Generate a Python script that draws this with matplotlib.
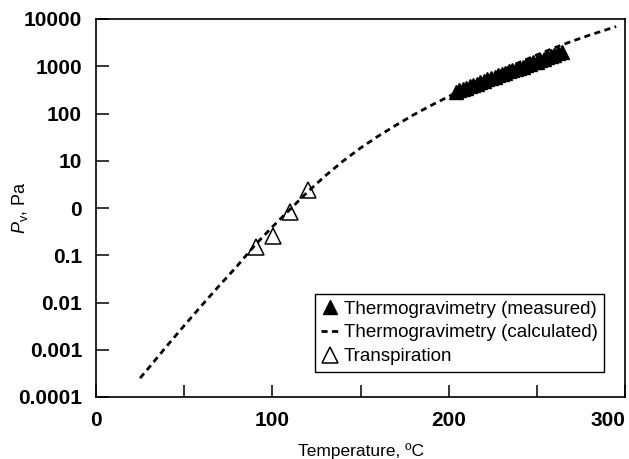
import numpy as np
import matplotlib
matplotlib.use('Agg')
import matplotlib.pyplot as plt

plt.rcParams['font.family'] = ['Liberation Sans', 'DejaVu Sans']
plt.rcParams['mathtext.fontset'] = 'custom'
plt.rcParams['mathtext.rm'] = 'Liberation Sans'
plt.rcParams['mathtext.it'] = 'Liberation Sans:italic'

# calculated curve (thermogravimetry), temperature in C, vapour pressure in Pa
t_calc = [25, 30, 40, 50, 60, 70, 80, 90, 100, 110, 120, 130, 140, 150, 160,
          170, 180, 190, 200, 210, 220, 230, 240, 250, 260, 270, 280, 290, 295]
p_calc = [0.000251, 0.000417, 0.00118, 0.00324, 0.00871, 0.0229, 0.0589, 0.162,
          0.398, 0.933, 2.19, 4.79, 9.77, 18.6, 33.1, 56.2, 93.3, 148, 229,
          355, 537, 813, 1202, 1738, 2455, 3388, 4571, 6026, 6918]

# measured thermogravimetry points
t_meas = [204, 206, 208, 210, 212, 214, 216, 218, 220, 222, 224, 226, 228, 230,
          232, 234, 236, 238, 240, 242, 244, 246, 248, 250, 252, 254, 256, 258,
          260, 262, 264]
p_meas = [288, 309, 331, 355, 380, 407, 427, 457, 490, 525, 562, 589, 646, 692,
          724, 776, 813, 871, 933, 977, 1047, 1122, 1202, 1259, 1349, 1445, 1549,
          1622, 1738, 1862, 1995]

# transpiration points
t_trans = [90.7, 100.2, 110.0, 120.2]
p_trans = [0.15, 0.26, 0.83, 2.4]

yticks = [1e-4, 1e-3, 1e-2, 1e-1, 1, 10, 100, 1000, 10000]
ylabels = ['0.0001', '0.001', '0.01', '0.1', '0', '10', '100', '1000', '10000']
xticks = [0, 100, 200, 300]
xminor = [50, 150, 250]

fig = plt.figure(figsize=(6.29, 4.59), dpi=100)
ax = fig.add_axes([96/629, 1 - 397/459, 529/629, 378/459])

ax.plot(t_meas, p_meas, linestyle='none', marker='^', ms=10, color='black',
        label='Thermogravimetry (measured)')
line, = ax.plot(t_calc, p_calc, color='black', lw=2,
                label='Thermogravimetry (calculated)')
line.set_dashes([2.2, 1.6])
ax.plot(t_trans, p_trans, linestyle='none', marker='^', ms=11, mfc='none',
        mec='black', mew=1.1, label='Transpiration')

ax.set_yscale('log')
ax.set_xlim(0, 300)
ax.set_ylim(1e-4, 1e4)
ax.set_yticks(yticks)
ax.set_yticklabels(ylabels)
ax.yaxis.set_minor_locator(matplotlib.ticker.NullLocator())
ax.set_xticks(xticks)
ax.set_xticks(xminor, minor=True)

for s in ax.spines.values():
    s.set_linewidth(1.2)
ax.tick_params(which='both', direction='in', length=9, width=1.1,
               top=False, right=False)
ax.tick_params(axis='both', which='major', labelsize=15, pad=10)
for lab in ax.get_xticklabels() + ax.get_yticklabels():
    lab.set_fontweight('bold')
ax.get_xticklabels()[-1].set_horizontalalignment('right')

ax.set_xlabel('Temperature, ºC', fontsize=12.5)
ax.xaxis.label.set_va('center')
ax.xaxis.set_label_coords(0.5, (397 - 451) / 378)
ax.set_ylabel('$\\mathit{P}_{\\mathrm{v}}$, Pa', fontsize=13)
ax.yaxis.label.set_va('center')
ax.yaxis.set_label_coords((20 - 96) / 529, 0.5)

leg = ax.legend(loc='lower right', bbox_to_anchor=(604/629, (459 - 371.7)/459),
                bbox_transform=fig.transFigure, fontsize=13.5, fancybox=False,
                framealpha=1, edgecolor='black', handlelength=1.0,
                handletextpad=0.2, borderpad=0.35, labelspacing=0.35,
                borderaxespad=0, markerscale=1.0)
leg.get_frame().set_linewidth(1.0)

fig.savefig('out.png', dpi=100)
